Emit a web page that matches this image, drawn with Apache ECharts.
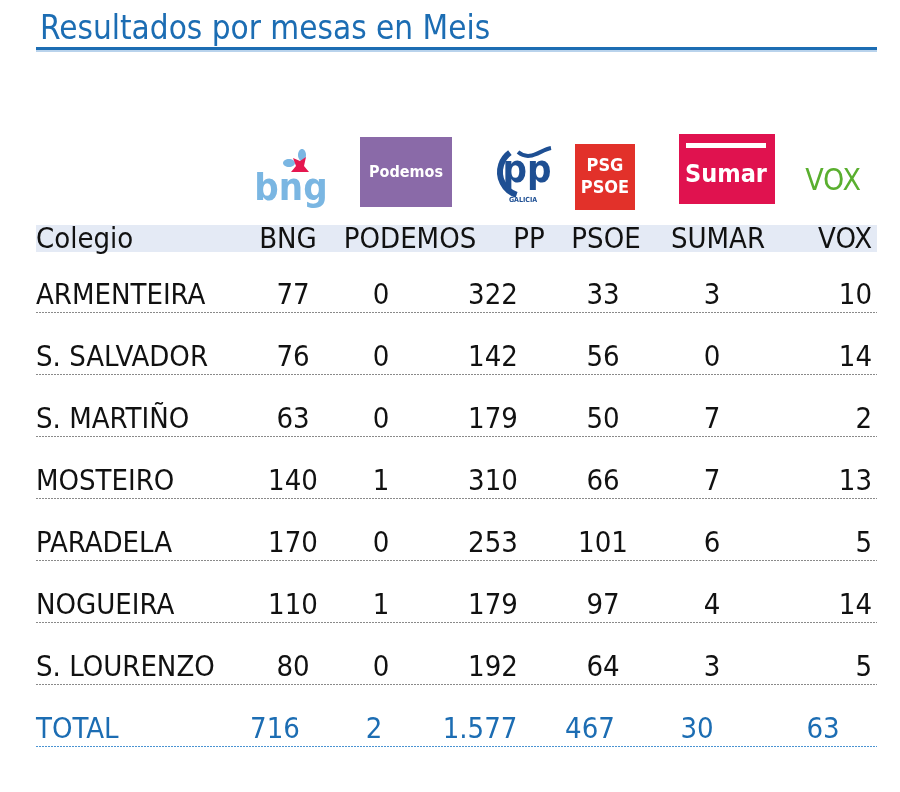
<!DOCTYPE html>
<html>
<head>
<meta charset="utf-8">
<script src="https://cdn.jsdelivr.net/npm/echarts@6/dist/echarts.min.js"></script>
<style>
  html, body { margin: 0; padding: 0; background: #ffffff; }
  #tabla { width: 900px; height: 792px; }
</style>
</head>
<body>
<div id="tabla"></div>
<script>
// datos
var colegios = ['ARMENTEIRA', 'S. SALVADOR', 'S. MARTIÑO', 'MOSTEIRO', 'PARADELA', 'NOGUEIRA', 'S. LOURENZO']
var partidos = ['BNG', 'PODEMOS', 'PP', 'PSOE', 'SUMAR', 'VOX']
var bng = [77, 76, 63, 140, 170, 110, 80]
var podemos = [0, 0, 0, 1, 0, 1, 0]
var pp = [322, 142, 179, 310, 253, 179, 192]
var psoe = [33, 56, 50, 66, 101, 97, 64]
var sumar = [3, 0, 7, 7, 6, 4, 3]
var vox = [10, 14, 2, 13, 5, 14, 5]
var totales = [716, 2, 1577, 467, 30, 63]

// maquetacion
var FONT = "'Liberation Sans Narrow', 'DejaVu Sans Condensed', sans-serif"
var AZUL = '#1c6db3'
var NEGRO = '#111111'
var TAM = 29
var colX = [293, 381, 493, 603, 712, 872]
var totalX = [275, 374, 480, 590, 697, 823]
var headX = [288, 410, 529, 606, 718, 872]
var HEAD_Y = -0.9
var TOTAL_Y = 7

function miles(v) {
  return String(v).replace(/\B(?=(\d{3})+(?!\d))/g, '.')
}

var valores = [bng, podemos, pp, psoe, sumar, vox]
var chart = echarts.init(document.getElementById('tabla'))

var series = []

// nombres de colegio + cabecera + total
var nombres = colegios.map(function (c, i) {
  return { value: [36, i], name: c }
})
nombres.unshift({ value: [36, HEAD_Y], name: 'Colegio' })
nombres.push({ value: [36, TOTAL_Y], name: 'TOTAL', label: { color: AZUL } })

var lineas = []
for (var i = 0; i < colegios.length; i++) {
  lineas.push([{ coord: [36, i + 0.26] }, { coord: [877, i + 0.26] }])
}
lineas.push([
  { coord: [36, TOTAL_Y + 0.27], lineStyle: { color: '#4a93d2', type: [2, 1] } },
  { coord: [877, TOTAL_Y + 0.27] }
])

series.push({
  type: 'scatter',
  symbolSize: 0,
  itemStyle: { opacity: 1 },
  data: nombres,
  label: {
    show: true, position: 'right', distance: 0,
    formatter: function (p) { return p.name },
    fontFamily: FONT, fontSize: TAM, color: NEGRO, opacity: 1
  },
  markArea: {
    silent: true,
    itemStyle: { color: '#e4eaf5', opacity: 1 },
    data: [[{ coord: [36, -1.145] }, { coord: [877, -0.71] }]]
  },
  markLine: {
    silent: true, symbol: 'none',
    label: { show: false },
    lineStyle: { color: '#8a8a8a', type: [2, 1], width: 1, opacity: 1 },
    data: lineas
  }
})

// cabecera de partidos
series.push({
  type: 'scatter',
  symbolSize: 0,
  itemStyle: { opacity: 1 },
  data: partidos.map(function (p, j) {
    return {
      value: [headX[j], HEAD_Y], name: p,
      label: j == 5 ? { position: 'left', distance: 0 } : {}
    }
  }),
  label: {
    show: true, position: 'inside',
    formatter: function (p) { return p.name },
    fontFamily: FONT, fontSize: TAM, color: NEGRO, opacity: 1
  }
})

// votos por partido
partidos.forEach(function (p, j) {
  var d = valores[j].map(function (v, i) {
    return { value: [colX[j], i, v] }
  })
  d.push({ value: [totalX[j], TOTAL_Y, totales[j]], label: { color: AZUL, position: 'inside' } })
  series.push({
    type: 'scatter',
    name: p,
    symbolSize: 0,
    itemStyle: { opacity: 1 },
    data: d,
    label: {
      show: true,
      position: j == 5 ? 'left' : 'inside',
      distance: 0,
      formatter: function (q) { return miles(q.value[2]) },
      fontFamily: FONT, fontSize: TAM, color: NEGRO, opacity: 1
    }
  })
})

var option = {
  animation: false,
  title: {
    text: 'Resultados por mesas en Meis',
    left: 35, top: 9,
    textStyle: { fontFamily: FONT, fontSize: 33, fontWeight: 'normal', color: AZUL }
  },
  grid: { left: 0, right: 0, top: 48, bottom: 0 },
  xAxis: { type: 'value', min: 0, max: 900, show: false },
  yAxis: { type: 'value', min: -4, max: 8, inverse: true, show: false },
  graphic: [
    // subrayado del titulo
    { type: 'rect', shape: { x: 36, y: 47, width: 841, height: 3 }, style: { fill: AZUL } },
    { type: 'rect', shape: { x: 36, y: 50, width: 841, height: 2 }, style: { fill: '#b9d3ec' } },
    // BNG
    { type: 'ellipse', shape: { cx: 289, cy: 163, rx: 6, ry: 4 }, style: { fill: '#7ab6e2' } },
    { type: 'ellipse', shape: { cx: 302, cy: 155, rx: 4, ry: 6 }, style: { fill: '#7ab6e2' } },
    { type: 'polygon', shape: { points: [[293, 158], [300, 161], [306, 157], [304, 166], [309, 172], [291, 172], [296, 166]] }, style: { fill: '#e5174f' } },
    { type: 'text', style: { text: 'bng', x: 291, y: 190, font: 'bold 38px ' + FONT, fill: '#7ab6e2', textAlign: 'center', textVerticalAlign: 'middle' } },
    // Podemos
    { type: 'rect', shape: { x: 360, y: 137, width: 92, height: 70 }, style: { fill: '#8a6aa8' } },
    { type: 'text', style: { text: 'Podemos', x: 406, y: 173, font: 'bold 16px ' + FONT, fill: '#ffffff', textAlign: 'center', textVerticalAlign: 'middle' } },
    // PP
    { type: 'arc', shape: { cx: 524, cy: 172, r: 24, startAngle: Math.PI * 0.6, endAngle: Math.PI * 1.3 }, style: { stroke: '#1e4f93', lineWidth: 6, fill: null } },
    { type: 'bezierCurve', shape: { x1: 518, y1: 152, x2: 551, y2: 148, cpx1: 530, cpy1: 162, cpx2: 540, cpy2: 150 }, style: { stroke: '#1e4f93', lineWidth: 4, fill: null } },
    { type: 'text', style: { text: 'pp', x: 527, y: 172, font: 'bold 38px ' + FONT, fill: '#1e4f93', textAlign: 'center', textVerticalAlign: 'middle' } },
    { type: 'text', style: { text: 'GALICIA', x: 523, y: 200, font: 'bold 7px ' + FONT, fill: '#1e4f93', textAlign: 'center', textVerticalAlign: 'middle' } },
    // PSOE
    { type: 'rect', shape: { x: 575, y: 144, width: 60, height: 66 }, style: { fill: '#e2312a' } },
    { type: 'text', style: { text: 'PSG\nPSOE', x: 605, y: 177, font: 'bold 18px ' + FONT, lineHeight: 22, fill: '#ffffff', textAlign: 'center', textVerticalAlign: 'middle' } },
    // Sumar
    { type: 'rect', shape: { x: 679, y: 134, width: 96, height: 70 }, style: { fill: '#e0124f' } },
    { type: 'rect', shape: { x: 686, y: 143, width: 80, height: 5 }, style: { fill: '#ffffff' } },
    { type: 'text', style: { text: 'Sumar', x: 726, y: 175, font: 'bold 25px ' + FONT, fill: '#ffffff', textAlign: 'center', textVerticalAlign: 'middle' } },
    // VOX
    { type: 'text', style: { text: 'VOX', x: 833, y: 182, font: '30px ' + FONT, fill: '#5aaf2f', textAlign: 'center', textVerticalAlign: 'middle' } }
  ],
  series: series
}

chart.setOption(option)
</script>
</body>
</html>
